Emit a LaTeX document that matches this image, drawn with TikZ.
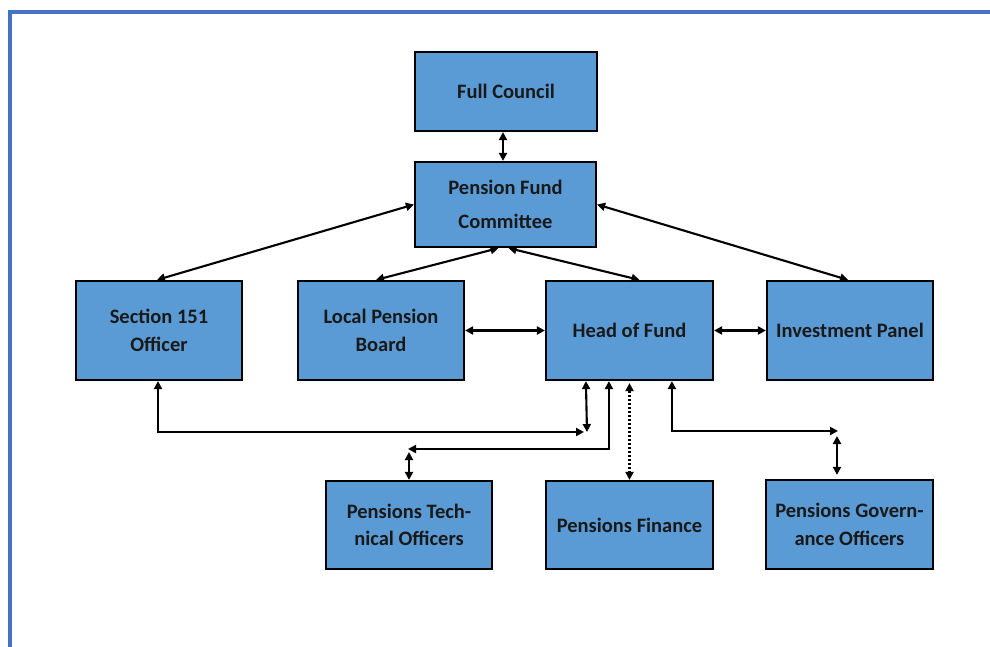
\documentclass[tikz,border=0pt]{standalone}
\usepackage{fontspec}
\setmainfont{Carlito}
\usetikzlibrary{arrows.meta,calc}
\definecolor{boxblue}{HTML}{5B9BD5}
\definecolor{frameblue}{HTML}{4472C4}
\begin{document}
\begin{tikzpicture}[x=1pt,y=-1pt,
  box/.style={draw=black,line width=2.2pt,fill=boxblue,align=center,
    font=\bfseries\fontsize{20.5}{27.5}\selectfont,text=black!90,inner sep=2pt},
  conn/.style={line width=2.1pt,draw=black},
  >={Triangle[length=8pt,width=8pt]}]
\useasboundingbox (0,0) rectangle (990,647);
\fill[white] (0,0) rectangle (990,647);
\draw[frameblue,line width=4pt] (9.5,647) -- (9.5,12.5) -- (992,12.5);

\node[box,minimum width=182pt,minimum height=79pt] (fc) at (506,91.5) {Full Council};
\node[box,minimum width=181pt,minimum height=85pt] (pfc) at (505.5,204.5) {Pension Fund\\[7pt]Committee};
\node[box,minimum width=166pt,minimum height=99pt] (s151) at (159,330.5) {Section 151\\Officer};
\node[box,minimum width=166pt,minimum height=99pt] (lpb) at (381,330.5) {Local Pension\\Board};
\node[box,minimum width=167pt,minimum height=99pt] (hof) at (629.5,330.5) {Head of Fund};
\node[box,minimum width=166pt,minimum height=99pt] (ip) at (850,330.5) {Investment Panel};
\node[box,minimum width=166pt,minimum height=88pt] (pto) at (409,525) {Pensions Tech-\\nical Officers};
\node[box,minimum width=167pt,minimum height=88pt] (pf) at (629.5,525) {Pensions Finance};
\node[box,minimum width=167pt,minimum height=89pt] (pgo) at (849.5,524.5) {Pensions Govern-\\ance Officers};

\draw[conn,<->] ($(fc.south)+(-3,0)$) -- ($(pfc.north)+(-2.5,0)$);
\draw[conn,<->] (pfc.west) -- ($(s151.north)+(-2,0)$);
\draw[conn,<->] ($(pfc.south)+(-7,0)$) -- ($(lpb.north)+(-5,0)$);
\draw[conn,<->] ($(pfc.south)+(3,0)$) -- ($(hof.north)+(10,0)$);
\draw[conn,<->] (pfc.east) -- ($(ip.north)+(-2,0)$);
\draw[conn,<->] (lpb.east) -- (hof.west);
\draw[conn,<->] (hof.east) -- (ip.west);

\coordinate (j1) at (587,432);
\coordinate (h1) at ($(hof.south west)+(41,0)$);
\draw[conn,<->] ($(s151.south)+(-1,0)$) |- ($(j1)+(-3,0)$);
\draw[conn,<->] (h1) -- (j1);

\coordinate (j2) at (408,449);
\coordinate (h2) at ($(hof.south west)+(64,0)$);
\draw[conn,<->] (h2) |- (j2);
\draw[conn,<->] ($(j2)+(1,3)$) -- (pto.north);

\draw[conn,<->,dash pattern=on 2.2pt off 1.8pt] ($(hof.south)+(0,2)$) -- (pf.north);

\coordinate (j3) at (838,431);
\coordinate (h3) at ($(hof.south west)+(127,0)$);
\draw[conn,<->] (h3) |- (j3);
\draw[conn,<->] (837,436) -- ($(pgo.north)+(-12.5,-4)$);
\end{tikzpicture}
\end{document}
